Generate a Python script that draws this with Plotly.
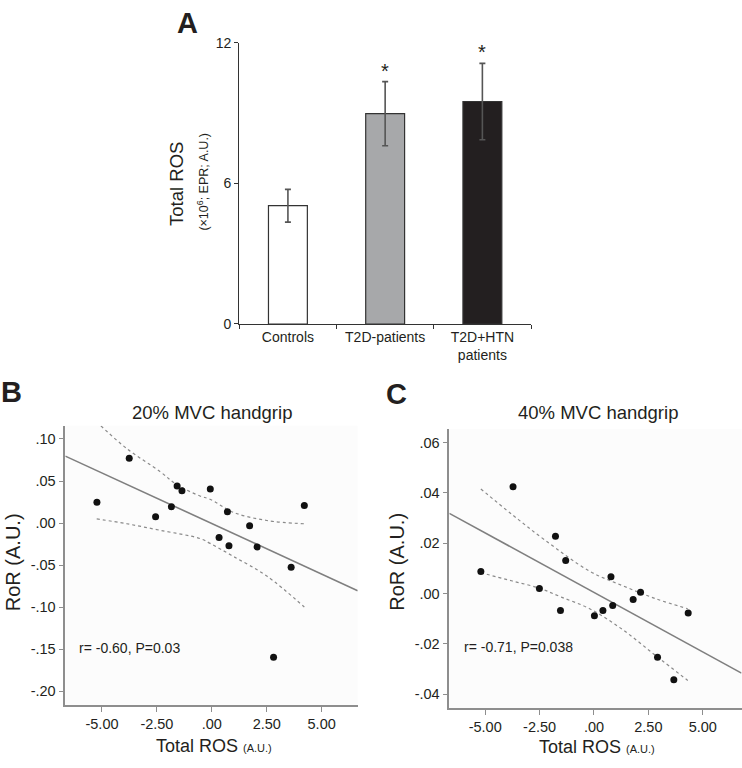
import plotly.graph_objects as go

W, H = 742, 768

# ---------------- Panel A data ----------------
groups = ["Controls", "T2D-patients", "T2D+HTN<br>patients"]
ros_mean = [5.05, 8.98, 9.50]
ros_err = [0.70, 1.37, 1.63]
bar_colors = ["#ffffff", "#a7a8aa", "#231f20"]
sig_marks = ["", "*", "*"]

# ---------------- Panel B data (20% MVC) ----------------
b_ros = [-5.23, -3.76, -2.56, -1.84, -1.58, -1.36, -0.07, 0.33, 0.71, 0.78, 1.72, 2.06, 2.81, 3.61, 4.21]
b_ror = [0.0248, 0.0772, 0.0074, 0.0194, 0.0442, 0.0384, 0.0404, -0.0171, 0.0136, -0.0268, -0.0031, -0.0283, -0.1595, -0.0524, 0.0210]
b_fit_x = [-6.67, 6.64]
b_fit_y = [0.0796, -0.0803]
b_up_x = [-5.05, -3.87, -2.36, -1.60, -0.54, -0.08, 0.98, 2.50, 4.21]
b_up_y = [0.1155, 0.0885, 0.0613, 0.0458, 0.0322, 0.0283, 0.0128, 0.0031, -0.0008]
b_lo_x = [-5.24, -3.87, -2.36, -0.54, -0.08, 0.98, 2.50, 4.21]
b_lo_y = [0.0050, -0.0008, -0.0085, -0.0183, -0.0241, -0.0396, -0.0629, -0.0997]

# ---------------- Panel C data (40% MVC) ----------------
c_ros = [-5.20, -3.72, -2.51, -1.77, -1.54, -1.30, 0.02, 0.41, 0.78, 0.86, 1.80, 2.14, 2.92, 3.67, 4.33]
c_ror = [0.0088, 0.0425, 0.0020, 0.0228, -0.0067, 0.0132, -0.0088, -0.0067, 0.0067, -0.0047, -0.0023, 0.0005, -0.0253, -0.0342, -0.0077]
c_fit_x = [-6.65, 6.78]
c_fit_y = [0.0319, -0.0316]
c_up_x = [-5.20, -3.79, -2.26, -0.20, 1.33, 2.86, 4.31]
c_up_y = [0.0416, 0.0316, 0.0213, 0.0089, 0.0031, -0.0021, -0.0060]
c_lo_x = [-5.20, -3.79, -2.49, -1.50, -0.20, 1.33, 2.86, 4.31]
c_lo_y = [0.0083, 0.0051, 0.0021, -0.0014, -0.0060, -0.0144, -0.0248, -0.0345]

b_xticks = [-5, -2.5, 0, 2.5, 5]
b_xtext = ["-5.00", "-2.50", ".00", "2.50", "5.00"]
b_yticks = [0.10, 0.05, 0.0, -0.05, -0.10, -0.15, -0.20]
b_ytext = [".10", ".05", ".00", "-.05", "-.10", "-.15", "-.20"]
c_yticks = [0.06, 0.04, 0.02, 0.0, -0.02, -0.04]
c_ytext = [".06", ".04", ".02", ".00", "-.02", "-.04"]

FONT = "Liberation Sans, Arial, sans-serif"
TXT = "#231f20"
AX = "#8e8e8e"


def px(x):
    return x / W


def py(y):
    return 1 - y / H


fig = go.Figure()

# Panel A bars
fig.add_trace(go.Bar(
    x=groups, y=ros_mean, width=0.4,
    marker=dict(color=bar_colors, line=dict(color="#333333", width=1.2)),
    error_y=dict(type="data", array=ros_err, color="#555555", thickness=1.6, width=3),
    xaxis="x", yaxis="y", showlegend=False,
))

# Panel B
fig.add_trace(go.Scatter(x=b_up_x, y=b_up_y, mode="lines", line=dict(color="#8a8a8a", width=1.2, dash="dot", shape="spline"),
                         xaxis="x2", yaxis="y2", showlegend=False))
fig.add_trace(go.Scatter(x=b_lo_x, y=b_lo_y, mode="lines", line=dict(color="#8a8a8a", width=1.2, dash="dot", shape="spline"),
                         xaxis="x2", yaxis="y2", showlegend=False))
fig.add_trace(go.Scatter(x=b_fit_x, y=b_fit_y, mode="lines", line=dict(color="#7f7f7f", width=1.6),
                         xaxis="x2", yaxis="y2", showlegend=False))
fig.add_trace(go.Scatter(x=b_ros, y=b_ror, mode="markers", marker=dict(color="#111111", size=7),
                         xaxis="x2", yaxis="y2", showlegend=False))

# Panel C
fig.add_trace(go.Scatter(x=c_up_x, y=c_up_y, mode="lines", line=dict(color="#8a8a8a", width=1.2, dash="dot", shape="spline"),
                         xaxis="x3", yaxis="y3", showlegend=False))
fig.add_trace(go.Scatter(x=c_lo_x, y=c_lo_y, mode="lines", line=dict(color="#8a8a8a", width=1.2, dash="dot", shape="spline"),
                         xaxis="x3", yaxis="y3", showlegend=False))
fig.add_trace(go.Scatter(x=c_fit_x, y=c_fit_y, mode="lines", line=dict(color="#7f7f7f", width=1.6),
                         xaxis="x3", yaxis="y3", showlegend=False))
fig.add_trace(go.Scatter(x=c_ros, y=c_ror, mode="markers", marker=dict(color="#111111", size=7),
                         xaxis="x3", yaxis="y3", showlegend=False))

tickfont = dict(family=FONT, size=14, color=TXT)
tickfont_bc = dict(family=FONT, size=14.5, color=TXT)

fig.update_layout(
    width=W, height=H,
    margin=dict(l=0, r=0, t=0, b=0),
    paper_bgcolor="white", plot_bgcolor="white",
    font=dict(family=FONT, color=TXT),
    bargap=0.6,
    xaxis=dict(domain=[px(239.3), px(531)], range=[-0.5, 2.5], type="category",
               showline=True, linecolor="#333333", linewidth=1.2, ticks="outside", tickson="boundaries",
               ticklen=4, tickcolor="#333333", tickfont=tickfont, showgrid=False, anchor="y"),
    yaxis=dict(domain=[py(322.7), py(35.7)], range=[0, 12], tickvals=[0, 6, 12],
               showline=True, linecolor="#333333", linewidth=1.2, ticks="outside", ticklen=4,
               tickcolor="#333333", tickfont=tickfont, showgrid=False, zeroline=False, anchor="x"),
    xaxis2=dict(domain=[px(65.3), px(357.7)], range=[-6.67, 6.64], tickvals=b_xticks, ticktext=b_xtext,
                showline=True, linecolor=AX, linewidth=1.5, ticks="outside", ticklen=5, tickcolor=AX,
                tickfont=tickfont_bc, showgrid=False, zeroline=False, anchor="y2"),
    yaxis2=dict(domain=[py(711.7), py(426.7)], range=[-0.216, 0.1156], tickvals=b_yticks, ticktext=b_ytext,
                showline=True, linecolor=AX, linewidth=1.5, ticks="outside", ticklen=5, tickcolor=AX,
                tickfont=tickfont_bc, showgrid=False, zeroline=False, anchor="x2"),
    xaxis3=dict(domain=[px(449.3), px(741.5)], range=[-6.65, 6.78], tickvals=b_xticks, ticktext=b_xtext,
                showline=True, linecolor=AX, linewidth=1.5, ticks="outside", ticklen=5, tickcolor=AX,
                tickfont=tickfont_bc, showgrid=False, zeroline=False, anchor="y3"),
    yaxis3=dict(domain=[py(715), py(430)], range=[-0.0455, 0.0654], tickvals=c_yticks, ticktext=c_ytext,
                showline=True, linecolor=AX, linewidth=1.5, ticks="outside", ticklen=5, tickcolor=AX,
                tickfont=tickfont_bc, showgrid=False, zeroline=False, anchor="x3"),
)

# faint plot backgrounds for B and C
for xr, yr in (("x2", "y2"), ("x3", "y3")):
    fig.add_shape(type="rect", xref=f"{xr} domain", yref=f"{yr} domain", x0=0, x1=1, y0=0, y1=1,
                  fillcolor="#fcfcfc", line=dict(width=0), layer="below")

ann = []


def add(text, x, y, size, bold=False, angle=0, xanchor="center", yanchor="middle", color=TXT):
    ann.append(dict(text=f"<b>{text}</b>" if bold else text, x=px(x), y=py(y), xref="paper", yref="paper",
                    showarrow=False, textangle=angle, xanchor=xanchor, yanchor=yanchor,
                    font=dict(family=FONT, size=size, color=color)))


# panel letters
add("A", 187, 15, 29, bold=True)
add("B", 11.7, 392.5, 29, bold=True)
add("C", 396.7, 394, 29, bold=True)

# Panel A y titles
add("Total ROS", 176.7, 180, 18.5, angle=-90)
add("(×10<sup>6</sup>; EPR; A.U.)", 203.3, 177, 12.5, angle=-90)

# Panel B / C titles
add("20% MVC handgrip", 211.5, 413, 18.5)
add("40% MVC handgrip", 597.5, 413, 18.5)

xt = "Total ROS <span style='font-size:11px'>(A.U.)</span>"
add(xt, 214, 754, 18)
add(xt, 596.7, 755, 18)
add("RoR (A.U.)", 13, 566, 20, angle=-90)
add("RoR (A.U.)", 397.5, 566, 20, angle=-90)

add("r= -0.60, P=0.03", 76.7, 654, 14, xanchor="left")
add("r= -0.71, P=0.038", 461.7, 653, 14, xanchor="left")

# significance stars
for g, m, e, s in zip(groups, ros_mean, ros_err, sig_marks):
    if s:
        ann.append(dict(text=s, x=g, y=m + e, xref="x", yref="y", showarrow=False, yanchor="bottom",
                        yshift=-2, font=dict(family=FONT, size=20, color=TXT)))

fig.update_layout(annotations=ann)

fig.write_html(
    "out.html",
    config={"displayModeBar": False},
    post_script="document.body.style.margin='0';document.documentElement.style.overflow='hidden';",
)
